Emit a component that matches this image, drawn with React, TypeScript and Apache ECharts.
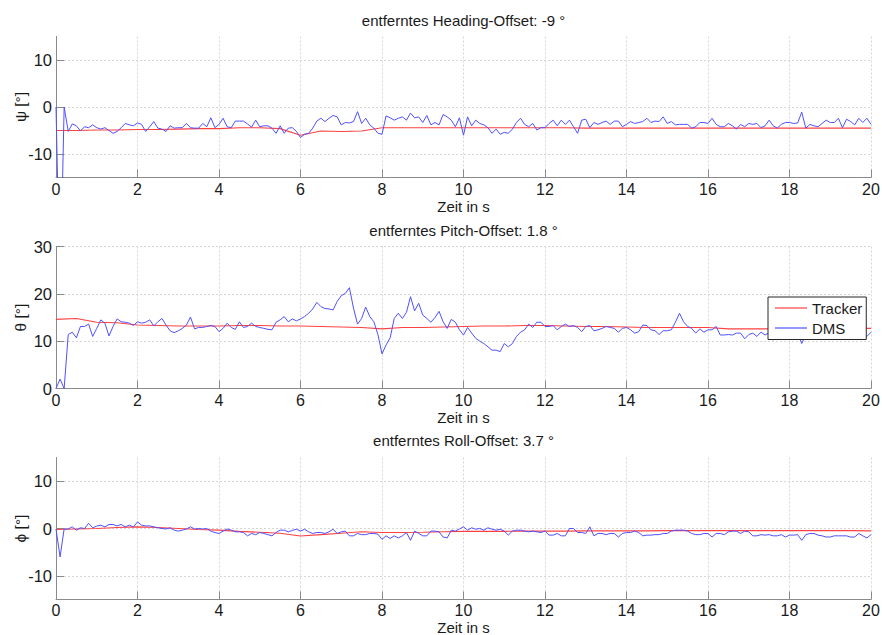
import React, { useEffect, useRef } from "react";
import * as echarts from "echarts";

// ---- data ----
const xTicks = { min: 0, max: 20, step: 2 };
const dmsStep = 0.1;
const trackerStep = 0.5;

const titles = [
  "entferntes Heading-Offset: -9 °",
  "entferntes Pitch-Offset: 1.8 °",
  "entferntes Roll-Offset: 3.7 °",
];
const yNames = ["ψ [°]", "θ [°]", "ϕ [°]"];
const xName = "Zeit in s";
const yRanges = [
  [-15, 15],
  [0, 30],
  [-15, 15],
];
const yTickValues = [
  [-10, 0, 10],
  [0, 10, 20, 30],
  [-10, 0, 10],
];

const dmsHeading = [
  0, -40, 0, -5.2, -3.6, -4.0, -5.1, -4.2, -4.4, -3.8,
  -4.4, -4.7, -4.4, -5.0, -5.6, -5.2, -4.4, -3.5, -3.8, -4.0,
  -3.4, -3.7, -5.2, -4.2, -3.1, -4.5, -4.7, -5.2, -4.0, -4.5,
  -4.4, -4.4, -3.5, -4.4, -4.5, -4.5, -3.5, -4.2, -2.3, -4.4,
  -3.7, -2.4, -4.2, -4.4, -3.0, -3.0, -3.0, -3.6, -4.3, -2.8,
  -4.2, -4.0, -4.0, -4.5, -5.6, -4.0, -5.6, -4.5, -4.4, -5.2,
  -6.5, -5.8, -5.6, -4.5, -3.0, -2.4, -3.1, -2.4, -1.8, -2.1,
  -3.8, -3.3, -3.4, -3.1, -1.0, -3.5, -2.4, -3.8, -4.5, -5.6,
  -5.8, -1.9, -2.3, -2.8, -2.4, -2.1, -2.8, -1.3, -2.3, -2.1,
  -3.3, -1.8, -3.8, -3.3, -3.8, -1.6, -2.1, -2.8, -4.2, -2.3,
  -6.0, -2.1, -4.0, -2.8, -3.5, -3.8, -4.4, -5.6, -4.7, -5.8,
  -5.4, -5.6, -4.7, -3.3, -2.4, -3.7, -4.2, -3.5, -4.9, -4.4,
  -4.4, -3.5, -2.8, -4.0, -2.8, -3.7, -2.8, -4.2, -5.6, -2.8,
  -2.6, -4.4, -3.3, -3.7, -3.3, -3.0, -3.7, -3.0, -3.0, -4.2,
  -3.7, -3.1, -3.5, -3.3, -3.1, -2.4, -3.3, -3.0, -3.1, -2.1,
  -3.5, -3.1, -3.8, -3.7, -3.7, -3.7, -4.5, -4.2, -3.3, -3.3,
  -3.5, -2.4, -3.7, -4.2, -4.2, -3.5, -4.0, -4.7, -3.7, -4.2,
  -3.5, -3.7, -3.5, -4.4, -4.0, -2.8, -4.0, -4.5, -3.7, -3.3,
  -3.3, -3.5, -3.4, -1.1, -4.5, -3.7, -4.0, -4.2, -3.5, -2.8,
  -3.3, -3.3, -2.4, -4.4, -2.6, -3.1, -3.8, -2.4, -3.3, -2.4,
  -3.7,
];

const dmsPitch = [
  0, 2.0, 0, 11.4, 11.9, 10.7, 13.1, 13.1, 13.6, 11.0,
  12.7, 14.5, 13.8, 11.1, 13.1, 14.7, 14.1, 14.0, 13.8, 13.3,
  14.1, 13.8, 14.0, 14.5, 13.2, 14.1, 14.8, 13.4, 12.2, 11.8,
  12.2, 12.7, 13.4, 15.1, 12.6, 12.9, 12.9, 13.1, 13.3, 13.1,
  12.0, 12.7, 13.8, 12.9, 12.5, 14.1, 12.9, 13.1, 13.8, 13.1,
  12.9, 12.7, 12.5, 12.4, 14.0, 14.5, 15.2, 14.1, 14.7, 14.3,
  14.7, 15.2, 15.9, 16.8, 18.2, 17.3, 16.9, 16.8, 16.6, 18.4,
  19.6, 20.1, 21.3, 17.0, 13.6, 14.8, 17.2, 15.2, 14.1, 11.4,
  7.3, 9.2, 10.7, 14.8, 15.9, 14.8, 16.1, 19.4, 16.4, 18.0,
  15.5, 14.8, 14.0, 15.0, 16.3, 14.1, 12.7, 14.6, 14.0, 12.4,
  11.3, 12.9, 11.7, 10.6, 10.0, 9.5, 8.8, 8.1, 8.1, 7.8,
  9.5, 8.8, 9.5, 11.0, 11.9, 12.4, 13.6, 12.9, 14.0, 14.0,
  13.1, 13.1, 13.3, 12.4, 13.1, 13.6, 13.1, 13.3, 12.9, 12.0,
  13.1, 13.3, 12.2, 12.4, 12.7, 13.1, 12.9, 12.7, 11.9, 12.7,
  12.9, 12.4, 11.7, 12.0, 13.4, 13.3, 12.4, 12.2, 11.4, 12.2,
  12.2, 12.4, 14.0, 15.9, 14.1, 13.1, 12.7, 11.7, 12.6, 11.9,
  12.4, 12.4, 13.1, 11.3, 11.3, 11.4, 11.3, 11.7, 11.7, 10.5,
  11.4, 11.7, 11.0, 11.9, 11.3, 11.8, 10.2, 11.5, 12.0, 11.6,
  11.8, 11.2, 11.9, 9.5, 11.4, 11.7, 11.2, 11.9, 11.5, 11.8,
  11.3, 11.9, 11.4, 11.6, 11.1, 11.8, 11.4, 11.9, 11.3, 11.0,
  11.9,
];

const dmsRoll = [
  -0.1, -6.0, -0.1, -0.1, 0.35, -0.35, 0.15, 0, 1.1, 0.15,
  0.5, 0.7, 0.35, 0.85, 0.85, 0.55, 0.85, 0.35, 0.7, 0.35,
  1.4, 0.7, 0.55, 0.55, 0.35, 0.15, 0, -0.1, 0.15, -0.35,
  -0.55, -0.35, -0.1, 0.35, -0.1, 0, -0.1, 0, -0.55, -0.85,
  -1.05, -0.55, -0.1, -0.35, -0.7, -0.7, -0.85, -1.55, -1.05, -1.3,
  -0.85, -1.05, -1.3, -1.55, -0.85, -0.35, -0.35, -0.7, -0.4, -0.15,
  -0.55, -0.15, -0.7, -1.05, -0.85, -0.85, -1.05, -0.7, -0.15, -1.05,
  -0.7, -0.55, -1.55, -1.55, -1.05, -1.3, -1.3, -1.05, -1.05, -1.2,
  -2.3, -1.55, -2.1, -1.55, -2.0, -1.55, -0.85, -2.5, -0.55, -1.05,
  -1.55, -1.55, -0.55, -0.55, -0.7, -1.8, -2.0, -0.35, -0.55, -0.1,
  0.35, -0.35, 0.15, -0.15, 0, -0.35, 0.15, -0.15, -0.35, -0.15,
  -0.55, -1.4, -0.55, -0.35, -0.35, -0.55, -0.7, -0.55, -0.7, -0.85,
  -0.55, -1.4, -1.4, -1.05, -1.55, -1.55, 0, 0, -0.85, -0.85,
  -1.05, 0.35, -1.55, -1.05, -1.05, -1.3, -1.05, -1.05, -1.8, -1.05,
  -0.85, -0.85, -0.55, -0.85, -1.55, -1.4, -1.4, -1.3, -1.3, -1.05,
  -1.05, -0.55, -0.35, -0.35, -0.35, -0.55, -1.05, -1.3, -1.3, -1.05,
  -1.05, -1.8, -1.05, -1.05, -1.3, -0.7, -0.55, -0.55, -1.05, -0.55,
  -0.7, -1.55, -1.55, -1.3, -1.4, -1.3, -1.55, -1.55, -1.3, -1.8,
  -1.4, -1.4, -1.3, -2.5, -1.3, -1.05, -1.05, -1.4, -1.55, -1.8,
  -1.8, -1.55, -1.55, -1.55, -1.55, -1.8, -1.8, -1.05, -1.55, -2.0,
  -1.3,
];

const trackerHeading = [
  -5.0, -5.0, -4.9, -4.9, -4.8, -4.8, -4.7, -4.6, -4.6, -4.4,
  -4.4, -4.6, -6.0, -5.1, -5.2, -5.1, -4.4, -4.4, -4.4, -4.4,
  -4.4, -4.4, -4.4, -4.4, -4.4, -4.4, -4.5, -4.5, -4.5, -4.5,
  -4.5, -4.5, -4.5, -4.5, -4.5, -4.5, -4.5, -4.5, -4.5, -4.5,
  -4.5,
];
const trackerPitch = [
  14.6, 14.8, 14.0, 13.9, 13.4, 13.3, 13.2, 13.2, 13.2, 13.3,
  13.3, 13.2, 13.2, 13.1, 13.0, 12.9, 12.6, 12.9, 12.9, 13.0,
  13.1, 13.2, 13.2, 13.3, 13.3, 13.2, 13.1, 13.1, 13.0, 12.9,
  12.9, 12.9, 12.9, 12.6, 12.6, 12.6, 12.6, 12.6, 12.7, 12.7,
  12.7,
];
const trackerRoll = [
  -0.2, -0.1, 0, 0.2, 0.35, 0.2, 0, -0.2, -0.35, -0.6,
  -0.8, -1.0, -1.6, -1.3, -1.0, -0.7, -0.85, -0.85, -0.8, -0.7,
  -0.6, -0.6, -0.6, -0.55, -0.55, -0.55, -0.5, -0.5, -0.5, -0.5,
  -0.45, -0.45, -0.45, -0.45, -0.45, -0.45, -0.45, -0.45, -0.45, -0.45,
  -0.5,
];

const dmsSeries = [dmsHeading, dmsPitch, dmsRoll];
const trackerSeries = [trackerHeading, trackerPitch, trackerRoll];

// ---- styling ----
const FONT = "'Liberation Sans', Arial, Helvetica, sans-serif";
const TEXT = "#1a1a1a";
const AXIS = "#8a8a8a";
const GRIDC = "#d6d6d6";
const RED = "#ff4040";
const BLUE = "#5050ff";

const gridTops = [36.5, 246.5, 457.5];
const gridHeights = [141, 142, 142];
const titleTops = [12.5, 222.5, 432.5];
const xNameGaps = [21.5, 21.5, 20];
const xLabelMargins = [4, 4, 3];

const toPairs = (vals: number[], step: number) =>
  vals.map((v, i) => [Math.round(i * step * 100) / 100, v]);

export default function App() {
  const ref = useRef<HTMLDivElement>(null);

  useEffect(() => {
    if (!ref.current) return;
    const chart = echarts.init(ref.current, undefined, { renderer: "svg" });

    const grid = gridTops.map((top, i) => ({
      left: 56,
      right: 11,
      top,
      height: gridHeights[i],
      containLabel: false,
      outerBoundsMode: "none",
    }));

    const xAxis = gridTops.map((_, i) => ({
      type: "value",
      gridIndex: i,
      min: xTicks.min,
      max: xTicks.max,
      interval: xTicks.step,
      name: xName,
      nameLocation: "middle",
      nameGap: xNameGaps[i],
      nameMoveOverlap: false,
      nameTextStyle: { fontSize: 15, lineHeight: 15, color: TEXT, fontFamily: FONT },
      axisLine: { show: true, onZero: false, lineStyle: { color: AXIS, width: 1 } },
      axisTick: { show: true, inside: true, length: 8, lineStyle: { color: AXIS } },
      axisLabel: {
        fontSize: 16,
        lineHeight: 15,
        color: TEXT,
        margin: xLabelMargins[i],
        fontFamily: FONT,
        hideOverlap: false,
      },
      splitLine: { show: true, lineStyle: { color: GRIDC, type: [2, 2], width: 1 } },
    }));

    const yAxis = gridTops.map((_, i) => ({
      type: "value",
      gridIndex: i,
      min: yRanges[i][0],
      max: yRanges[i][1],
      name: yNames[i],
      nameLocation: "middle",
      nameRotate: 90,
      nameGap: 28,
      nameMoveOverlap: false,
      nameTextStyle: { fontSize: 15.5, color: TEXT, fontFamily: FONT },
      axisLine: { show: true, onZero: false, lineStyle: { color: AXIS, width: 1 } },
      axisTick: {
        show: true,
        inside: true,
        length: 8,
        lineStyle: { color: AXIS },
        customValues: yTickValues[i],
      },
      axisLabel: {
        fontSize: 16.5,
        color: TEXT,
        margin: 4,
        fontFamily: FONT,
        hideOverlap: false,
        customValues: yTickValues[i],
      },
      splitLine: { show: true, lineStyle: { color: GRIDC, type: [2, 2], width: 1 } },
    }));

    const series: any[] = [];
    gridTops.forEach((_, i) => {
      series.push({
        name: "Tracker",
        type: "line",
        xAxisIndex: i,
        yAxisIndex: i,
        data: toPairs(trackerSeries[i], trackerStep),
        symbol: "none",
        showSymbol: false,
        smooth: false,
        lineStyle: { color: RED, width: 1.1 },
        itemStyle: { color: RED },
        clip: true,
      });
      series.push({
        name: "DMS",
        type: "line",
        xAxisIndex: i,
        yAxisIndex: i,
        data: toPairs(dmsSeries[i], dmsStep),
        symbol: "none",
        showSymbol: false,
        smooth: false,
        lineStyle: { color: BLUE, width: 1 },
        itemStyle: { color: BLUE },
        clip: true,
      });
    });

    chart.setOption({
      animation: false,
      backgroundColor: "#ffffff",
      textStyle: { fontFamily: FONT },
      title: titles.map((t, i) => ({
        text: t,
        left: 463.5,
        top: titleTops[i],
        textAlign: "center",
        padding: 0,
        textStyle: { fontSize: 15, fontWeight: "normal", color: TEXT, fontFamily: FONT },
      })),
      legend: {
        data: [
          { name: "Tracker", icon: "rect" },
          { name: "DMS", icon: "rect" },
        ],
        orient: "vertical",
        left: 768,
        top: 297,
        itemWidth: 32,
        itemHeight: 1.2,
        itemGap: 5,
        padding: [3.5, 4, 4, 7],
        borderColor: "#262626",
        borderWidth: 1,
        borderRadius: 0,
        backgroundColor: "#ffffff",
        selectedMode: false,
        textStyle: { fontSize: 15, color: TEXT, fontFamily: FONT, padding: [0, 0, 0, 0] },
      },
      grid,
      xAxis,
      yAxis,
      series,
    });

    return () => chart.dispose();
  }, []);

  return (
    <div
      ref={ref}
      style={{ position: "absolute", left: 0, top: 0, width: 882, height: 635, background: "#fff" }}
    />
  );
}
